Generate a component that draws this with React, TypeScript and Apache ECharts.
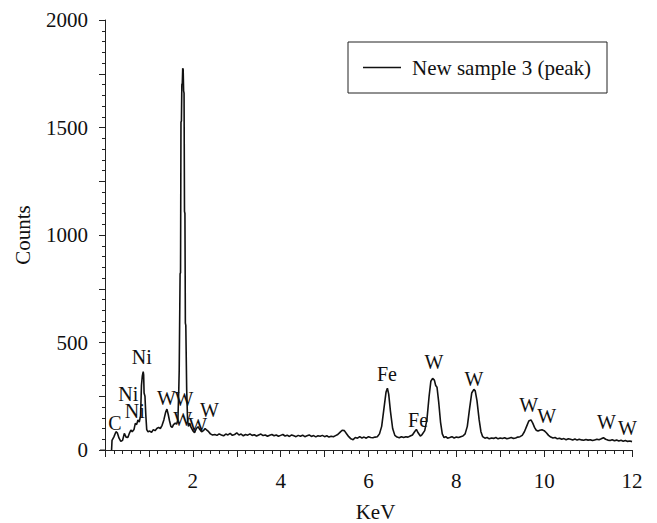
import React, { useEffect, useRef } from "react";
import * as echarts from "echarts";

// Spectrum: energy (keV) and counts
const energyKeV: number[] = [
  0.15, 0.16, 0.2, 0.25, 0.28, 0.32, 0.36, 0.4, 0.44, 0.48, 0.52, 0.56, 0.59, 0.62, 0.66, 0.69, 0.72, 0.75, 0.78, 0.81,
  0.83, 0.85, 0.87, 0.88, 0.89, 0.91, 0.93, 0.95, 0.98, 1.02, 1.06, 1.1, 1.14, 1.18, 1.22, 1.26, 1.3, 1.34, 1.38, 1.41,
  1.44, 1.47, 1.5, 1.53, 1.56, 1.6, 1.63, 1.66, 1.68, 1.69, 1.7, 1.71, 1.72, 1.73, 1.74, 1.75, 1.76, 1.77, 1.78, 1.79,
  1.8, 1.81, 1.82, 1.83, 1.84, 1.86, 1.88, 1.9, 1.93, 1.96, 2.0, 2.04, 2.08, 2.12, 2.16, 2.2, 2.24, 2.28, 2.32, 2.36,
  2.4, 2.45, 2.5, 2.55, 2.6, 2.65, 2.7, 2.75, 2.8, 2.85, 2.9, 2.95, 3.0, 3.05, 3.1, 3.15, 3.2, 3.25, 3.3, 3.35,
  3.4, 3.45, 3.5, 3.55, 3.6, 3.65, 3.7, 3.75, 3.8, 3.85, 3.9, 3.95, 4.0, 4.05, 4.1, 4.15, 4.2, 4.25, 4.3, 4.35,
  4.4, 4.45, 4.5, 4.55, 4.6, 4.65, 4.7, 4.75, 4.8, 4.85, 4.9, 4.95, 5.0, 5.05, 5.1, 5.15, 5.2, 5.25, 5.3, 5.35,
  5.4, 5.45, 5.5, 5.55, 5.6, 5.65, 5.7, 5.75, 5.8, 5.85, 5.9, 5.95, 6.0, 6.05, 6.1, 6.15, 6.2, 6.25, 6.3, 6.35,
  6.4, 6.43, 6.46, 6.5, 6.55, 6.6, 6.65, 6.7, 6.75, 6.8, 6.85, 6.9, 6.95, 7.0, 7.05, 7.09, 7.13, 7.18, 7.22, 7.28,
  7.33, 7.38, 7.42, 7.46, 7.5, 7.53, 7.56, 7.6, 7.64, 7.68, 7.72, 7.76, 7.8, 7.85, 7.9, 7.95, 8.0, 8.05, 8.1, 8.15,
  8.2, 8.25, 8.3, 8.35, 8.4, 8.43, 8.47, 8.52, 8.56, 8.6, 8.65, 8.7, 8.75, 8.8, 8.85, 8.9, 8.95, 9.0, 9.05, 9.1,
  9.15, 9.2, 9.25, 9.3, 9.35, 9.4, 9.45, 9.5, 9.55, 9.6, 9.65, 9.7, 9.74, 9.78, 9.82, 9.86, 9.9, 9.95, 10.0, 10.05,
  10.1, 10.15, 10.2, 10.25, 10.3, 10.35, 10.4, 10.45, 10.5, 10.55, 10.6, 10.65, 10.7, 10.75, 10.8, 10.85, 10.9, 10.95, 11.0, 11.05,
  11.1, 11.15, 11.2, 11.25, 11.3, 11.35, 11.4, 11.45, 11.5, 11.55, 11.6, 11.65, 11.7, 11.75, 11.8, 11.85, 11.9, 11.95, 12.0,
];

const counts: number[] = [
  0, 45, 60, 85, 80, 55, 40, 45, 77, 60, 58, 80, 93, 85, 95, 124, 118, 140, 130, 160,
  300, 345, 364, 350, 265, 250, 160, 95, 85, 88, 82, 95, 90, 100, 105, 100, 115, 140, 175, 190,
  165, 135, 110, 105, 118, 125, 120, 140, 280, 372, 372, 820, 825, 1525, 1530, 1700, 1705, 1775, 1770, 1670,
  1660, 1110, 1100, 590, 580, 280, 140, 110, 125, 105, 90, 80, 100, 108, 95, 85, 90, 100, 92, 85,
  75, 70, 72, 68, 75, 70, 66, 74, 70, 77, 68, 72, 80, 70, 74, 66, 72, 69, 75, 68,
  71, 65, 70, 74, 67, 70, 64, 69, 72, 66, 70, 64, 68, 72, 65, 69, 63, 70, 66, 62,
  68, 64, 69, 62, 66, 70, 63, 67, 61, 66, 64, 68, 62, 66, 60, 64, 62, 67, 72, 82,
  92, 90, 76, 62, 52, 48, 58, 55, 62, 56, 60, 55, 62, 58, 57, 60, 62, 75, 110, 190,
  270, 287, 260, 180, 100, 68, 60, 57, 62, 58, 62, 60, 65, 70, 85, 96, 80, 65, 72, 90,
  140, 250, 320, 333, 325, 300, 292, 220, 130, 75, 58, 62, 55, 58, 62, 56, 60, 58, 62, 65,
  75, 110, 190, 265, 282, 275, 230, 140, 85, 62, 55, 58, 52, 56, 54, 58, 52, 56, 53, 57,
  52, 55, 58, 54, 56, 60, 62, 68, 85, 110, 135, 140, 125, 105, 92, 88, 92, 94, 90, 80,
  68, 60, 56, 58, 52, 55, 50, 53, 48, 52, 50, 47, 51, 46, 50, 47, 45, 49, 46, 48,
  44, 47, 50, 48, 52, 57, 50, 46, 44, 48, 43, 46, 42, 45, 41, 44, 40, 42, 39,
];

// Peak annotations: element, energy (keV), counts at text centre
const peakNames: string[] = ["C", "Ni", "Ni", "Ni", "W", "W", "W", "W", "W", "Fe", "Fe", "W", "W", "W", "W", "W", "W"];
const peakKeV: number[] = [0.24, 0.54, 0.69, 0.85, 1.41, 1.81, 1.78, 2.12, 2.39, 6.43, 7.14, 7.5, 8.41, 9.66, 10.07, 11.43, 11.91];
const peakCounts: number[] = [124, 256, 178, 431, 240, 233, 140, 116, 186, 349, 135, 405, 330, 209, 158, 130, 102];

const xLabelValues: number[] = [2, 4, 6, 8, 10, 12];
const yLabelValues: number[] = [0, 500, 1000, 1500, 2000];

const seriesName = "New sample 3 (peak)";
const FONT = "Liberation Serif";
const INK = "#111111";

export default function App() {
  const ref = useRef<HTMLDivElement>(null);
  useEffect(() => {
    if (!ref.current) return;
    const chart = echarts.init(ref.current, undefined, { renderer: "svg" });
    const lineData = energyKeV.map((e, i) => [e, counts[i]]);
    const labelData = peakNames.map((n, i) => ({ name: n, value: [peakKeV[i], peakCounts[i]] }));
    chart.setOption({
      animation: false,
      backgroundColor: "#ffffff",
      textStyle: { fontFamily: FONT, color: INK },
      grid: { left: 105, right: 25, top: 20, bottom: 73, containLabel: false, outerBoundsMode: "none" },
      graphic: [
        {
          type: "line",
          shape: { x1: 100, y1: 450, x2: 105, y2: 450 },
          style: { stroke: "#222", lineWidth: 1 },
        },
      ],
      legend: {
        data: [{ name: seriesName, icon: "rect" }],
        left: 348,
        top: 42,
        orient: "vertical",
        borderColor: "#222",
        borderWidth: 1,
        padding: [15, 16, 15, 15],
        itemWidth: 38,
        itemHeight: 1.5,
        itemStyle: { color: INK },
        textStyle: { fontFamily: FONT, fontSize: 21, color: INK, padding: [0, 0, 0, 6] },
      },
      xAxis: {
        type: "value",
        min: 0,
        max: 12,
        interval: 1,
        name: "KeV",
        nameLocation: "middle",
        nameGap: 51,
        nameTextStyle: { fontFamily: FONT, fontSize: 21, color: INK, padding: [0, 0, 0, 14] },
        axisLine: { show: true, onZero: false, lineStyle: { color: "#222", width: 1 } },
        axisTick: { show: true, length: 7, lineStyle: { color: "#222" } },
        minorTick: { show: true, splitNumber: 5, length: 4, lineStyle: { color: "#222" } },
        axisLabel: {
          fontFamily: FONT,
          fontSize: 21,
          color: INK,
          margin: 20,
          formatter: (v: number) => (xLabelValues.includes(v) ? String(v) : ""),
        },
        splitLine: { show: false },
      },
      yAxis: {
        type: "value",
        min: 0,
        max: 2000,
        interval: 250,
        offset: 5,
        name: "Counts",
        nameLocation: "middle",
        nameGap: 67,
        nameTextStyle: { fontFamily: FONT, fontSize: 21, color: INK },
        axisLine: { show: true, lineStyle: { color: "#222", width: 1 } },
        axisTick: { show: true, length: 6, lineStyle: { color: "#222" } },
        minorTick: { show: true, splitNumber: 5, length: 3, lineStyle: { color: "#222" } },
        axisLabel: {
          fontFamily: FONT,
          fontSize: 21,
          color: INK,
          margin: 12,
          formatter: (v: number) => (yLabelValues.includes(v) ? String(v) : ""),
        },
        splitLine: { show: false },
      },
      series: [
        {
          name: seriesName,
          type: "line",
          data: lineData,
          symbol: "none",
          showSymbol: false,
          lineStyle: { color: INK, width: 1.6 },
          itemStyle: { color: INK },
          z: 3,
        },
        {
          name: "labels",
          type: "scatter",
          data: labelData,
          symbolSize: 1,
          itemStyle: { opacity: 0 },
          silent: true,
          z: 2,
          label: {
            show: true,
            position: [0, 0],
            align: "center",
            verticalAlign: "middle",
            formatter: "{b}",
            fontFamily: FONT,
            fontSize: 20,
            color: INK,
            opacity: 1,
            textBorderWidth: 0,
          },
          labelLayout: { hideOverlap: false },
        },
      ],
    });
    return () => chart.dispose();
  }, []);
  return <div ref={ref} style={{ position: "fixed", left: 0, top: 0, width: 657, height: 523 }} />;
}
